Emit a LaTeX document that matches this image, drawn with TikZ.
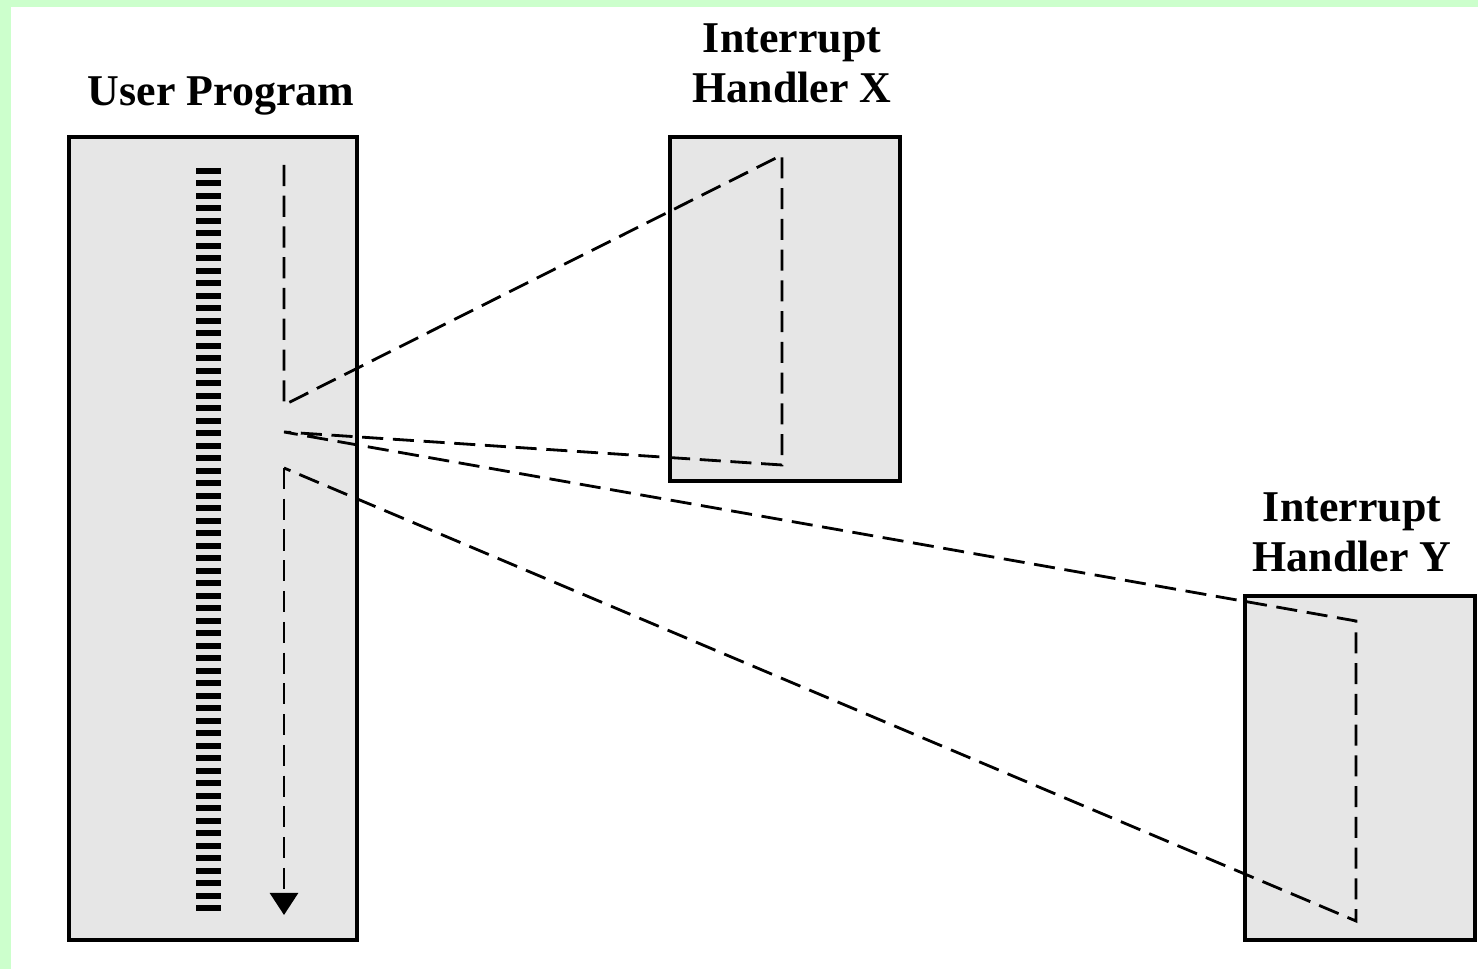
\documentclass[tikz,border=0pt]{standalone}
\usepackage{fontspec}
\setmainfont{Liberation Serif}
\usepackage{tikz}
\usetikzlibrary{arrows.meta, positioning}

\definecolor{pagegreen}{RGB}{204,255,204}
\definecolor{boxgray}{RGB}{230,230,230}

\begin{document}
\begin{tikzpicture}[box/.style={draw, line width=1.8pt, fill=boxgray, inner sep=0pt},
    title/.style={font=\bfseries\fontsize{25}{28.5}\selectfont, align=center, inner sep=0pt},
    flow/.style={line width=1.6pt, dash pattern=on 12pt off 5.5pt}]
        % page frame
        \useasboundingbox (0,0) rectangle (29.56,19.38);
        \fill[pagegreen] (0,0) rectangle (29.56,19.38);
        \fill[white] (0.22,0) rectangle (29.56,19.24);

        \node[box, minimum width=5.76cm, minimum height=16.06cm] (user) at (4.26,8.61) {};
        \node[box, minimum width=4.6cm, minimum height=6.88cm] (hx) at (15.7,13.2) {};
        \node[box, minimum width=4.6cm, minimum height=6.88cm] (hy) at (27.2,4.02) {};

        \node[title, above=0.4cm of user, xshift=0.16cm] (usertitle) {User Program};
        \node[title, above=0.64cm of hx, xshift=0.14cm] (hxtitle) {Interrupt\\Handler X};
        \node[title, above=0.44cm of hy, xshift=-0.16cm] (hytitle) {Interrupt\\Handler Y};

        % instructions of the user program
        \draw[line width=0.5cm, dash pattern=on 0.12cm off 0.13cm] (4.17,16.02) -- (4.17,1.15);

        % points of the flow of control
        \coordinate (start) at (5.68,16.08);
        \coordinate (callx) at (5.68,11.28);
        \coordinate (backx) at (5.68,10.74);
        \coordinate (backy) at (5.68,10.02);
        \coordinate (stop) at (5.68,1.08);
        \coordinate (xtop) at (15.64,16.28);
        \coordinate (xbot) at (15.64,10.08);
        \coordinate (ytop) at (27.12,6.96);
        \coordinate (ybot) at (27.12,0.96);

        \draw[flow] (start) -- (callx) -- (xtop) -- (xbot) -- (backx) -- (ytop) -- (ybot) -- (backy);
        \draw[flow, -{Triangle[width=0.56cm, length=0.44cm]}] (backy) -- (stop);
    \end{tikzpicture}
\end{document}
